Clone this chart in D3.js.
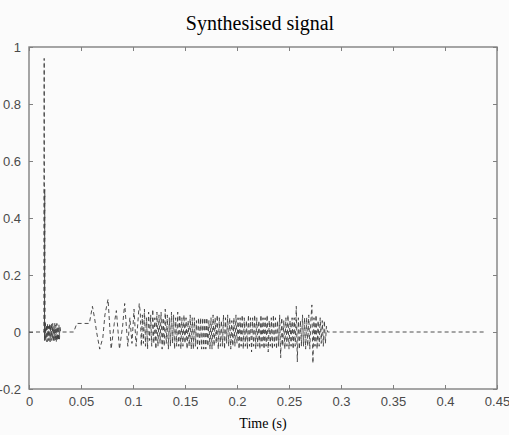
<!DOCTYPE html>
<html>
<head>
<meta charset="utf-8">
<script src="https://cdn.jsdelivr.net/npm/d3@7"></script>
<style>
  body { margin: 0; background: #fbfbfb; }
  svg { display: block; }
</style>
</head>
<body>
<div id="chart"></div>
<script>
// start of signal: silence, click spike, short burst, small step
var headTimes = [0, 0.0143, 0.0146, 0.0149, 0.0152, 0.0155];
var headValues = [0, 0, 0.96, -0.03, 0.5, -0.03];

// burst, sampled every 0.0005 s from 0.0158
var burstStart = 0.0158, burstStep = 0.0005;
var burstValues = [
  0.03, -0.03, 0.025, -0.035, 0.03, -0.03, 0.02, -0.03, 0.03, -0.035,
  0.025, -0.03, 0.03, -0.025, 0.03, -0.035, 0.02, -0.03, 0.03, -0.03,
  0.025, -0.035, 0.03, -0.03, 0.02, -0.03, 0.025, -0.025, 0.02, 0
];

// quiet part, step, and first slow oscillations
var slowTimes = [
  0.031, 0.043, 0.046, 0.058, 0.061, 0.063, 0.065, 0.068, 0.071, 0.073,
  0.076, 0.079, 0.082, 0.084, 0.087, 0.090, 0.092, 0.095, 0.097, 0.099,
  0.101, 0.103, 0.106
];
var slowValues = [
  0, 0, 0.03, 0.03, 0.09, 0.05, 0.0, -0.06, -0.02, 0.06,
  0.115, -0.06, 0.03, 0.075, -0.06, 0.02, 0.10, -0.05, 0.05, -0.04,
  0.08, -0.05, 0.10
];

// dense oscillation, sampled every 0.001 s from 0.107
var denseStart = 0.107, denseStep = 0.001;
var denseValues = [
  0.07, -0.05, 0.06, -0.04, 0.08, -0.05, 0.05, -0.06, 0.07, -0.03,
  0.06, -0.05, 0.08, -0.04, 0.05, -0.06, 0.07, -0.05, 0.06, -0.04,
  0.07, -0.06, 0.05, -0.05, 0.08, -0.04, 0.06, -0.06, 0.05, -0.05,
  0.07, -0.04, 0.06, -0.06, 0.05, -0.05, 0.07, -0.05, 0.06, -0.06,
  0.05, -0.05, 0.06, -0.04, 0.05, -0.06, 0.04, -0.05, 0.06, -0.06,
  0.05, -0.06, 0.05, -0.05, 0.04, -0.06, 0.05, -0.05, 0.05, -0.06,
  0.05, -0.06, 0.05, -0.06, 0.05, -0.05, 0.04, -0.06, 0.05, -0.06,
  0.06, -0.05, 0.05, -0.04, 0.06, -0.06, 0.05, -0.05, 0.04, -0.05,
  0.06, -0.06, 0.05, -0.04, 0.06, -0.05, 0.05, -0.06, 0.04, -0.05,
  0.05, -0.05, 0.06, -0.04, 0.05, -0.06, 0.05, -0.05, 0.06, -0.06,
  0.05, -0.05, 0.04, -0.06, 0.06, -0.05, 0.05, -0.07, 0.05, -0.05,
  0.06, -0.06, 0.05, -0.05, 0.04, -0.06, 0.06, -0.05, 0.05, -0.06,
  0.05, -0.05, 0.06, -0.07, 0.04, -0.05, 0.05, -0.06, 0.06, -0.05,
  0.05, -0.06, 0.04, -0.05, 0.06, -0.09, 0.05, -0.05, 0.04, -0.06,
  0.05, -0.05, 0.06, -0.06, 0.04, -0.05, 0.05, -0.06, 0.05, -0.05,
  0.09, -0.105, 0.05, -0.06, 0.04, -0.05, 0.06, -0.05, 0.05, -0.06,
  0.05, -0.05, 0.06, -0.06, 0.04, 0.095, -0.11, 0.05, -0.05, 0.06,
  -0.06, 0.04, -0.05, 0.05, -0.04, 0.04, -0.05, 0.04, -0.04, 0.02
];

// trailing silence
var tailTimes = [0.287, 0.439];
var tailValues = [0, 0];

var xTicks = [0, 0.05, 0.1, 0.15, 0.2, 0.25, 0.3, 0.35, 0.4, 0.45];
var yTicks = [-0.2, 0, 0.2, 0.4, 0.6, 0.8, 1];

var width = 509, height = 435,
  padLeft = 29, padRight = 497, padTop = 47, padBottom = 389;

var points = [];
headTimes.forEach(function (t, i) { points.push([t, headValues[i]]); });
burstValues.forEach(function (v, i) { points.push([burstStart + i * burstStep, v]); });
slowTimes.forEach(function (t, i) { points.push([t, slowValues[i]]); });
denseValues.forEach(function (v, i) { points.push([denseStart + i * denseStep, v]); });
tailTimes.forEach(function (t, i) { points.push([t, tailValues[i]]); });

var x = d3.scaleLinear().domain([0, 0.45]).range([padLeft, padRight]);
var y = d3.scaleLinear().domain([-0.2, 1]).range([padBottom, padTop]);

var svg = d3.select('#chart').append('svg')
  .attr('width', width)
  .attr('height', height);

svg.append('rect')
  .attr('width', width).attr('height', height)
  .attr('fill', '#fbfbfb');

var fmt = function (d) { return String(+d.toFixed(2)); };

// axes with inward ticks on all four sides
var axisColor = '#808080';
function styleAxis(g) {
  g.select('.domain').remove();
  g.selectAll('line').attr('stroke', axisColor).attr('stroke-width', 1);
  g.selectAll('text')
    .attr('fill', '#4a4a4a')
    .attr('font-family', 'Liberation Sans, Arial, sans-serif')
    .attr('font-size', 13);
}

svg.append('g')
  .attr('transform', 'translate(0,' + padBottom + ')')
  .call(d3.axisBottom(x).tickValues(xTicks).tickSize(-4).tickPadding(8).tickFormat(fmt))
  .call(styleAxis);

svg.append('g')
  .attr('transform', 'translate(0,' + padTop + ')')
  .call(d3.axisTop(x).tickValues(xTicks).tickSize(-4).tickFormat(''))
  .call(styleAxis);

svg.append('g')
  .attr('transform', 'translate(' + padLeft + ',0)')
  .call(d3.axisLeft(y).tickValues(yTicks).tickSize(-4).tickPadding(8).tickFormat(fmt))
  .call(styleAxis);

svg.append('g')
  .attr('transform', 'translate(' + padRight + ',0)')
  .call(d3.axisRight(y).tickValues(yTicks).tickSize(-4).tickFormat(''))
  .call(styleAxis);

svg.append('rect')
  .attr('x', padLeft).attr('y', padTop)
  .attr('width', padRight - padLeft).attr('height', padBottom - padTop)
  .attr('fill', 'none')
  .attr('stroke', axisColor)
  .attr('stroke-width', 1.4);

var line = d3.line()
  .x(function (d) { return x(d[0]); })
  .y(function (d) { return y(d[1]); });

svg.append('path')
  .datum(points)
  .attr('d', line)
  .attr('fill', 'none')
  .attr('stroke', '#3a3a3a')
  .attr('stroke-width', 0.9)
  .attr('stroke-dasharray', '4,3');

svg.append('text')
  .attr('x', 260).attr('y', 30)
  .attr('text-anchor', 'middle')
  .attr('font-family', 'Liberation Serif, Times New Roman, serif')
  .attr('font-size', 20)
  .attr('fill', '#000')
  .text('Synthesised signal');

svg.append('text')
  .attr('x', 263).attr('y', 428)
  .attr('text-anchor', 'middle')
  .attr('font-family', 'Liberation Serif, Times New Roman, serif')
  .attr('font-size', 14)
  .attr('fill', '#000')
  .text('Time (s)');
</script>
</body>
</html>
